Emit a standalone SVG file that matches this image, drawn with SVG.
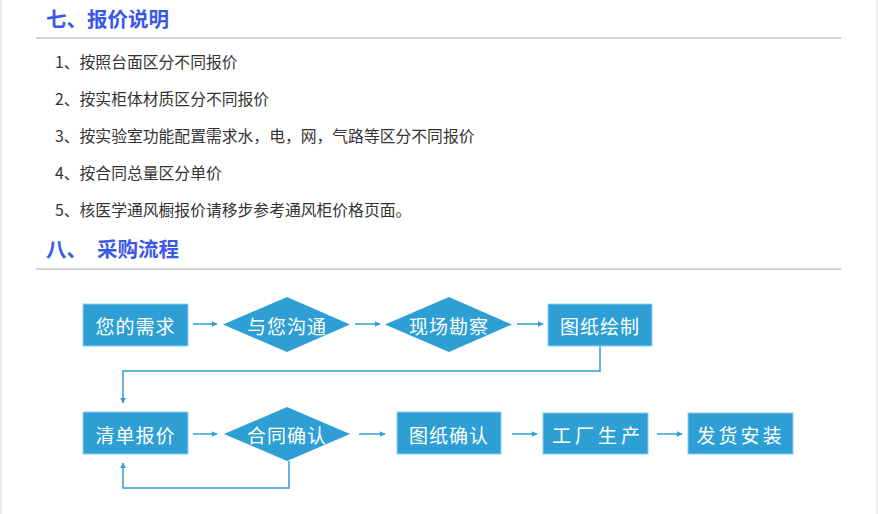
<svg xmlns="http://www.w3.org/2000/svg" width="878" height="514" viewBox="0 0 878 514">
<defs>
<style>
.h{font-family:"Noto Sans CJK SC","Noto Sans",sans-serif;font-size:20.5px;font-weight:bold;fill:#3a58e8}
.li{font-family:"Noto Sans CJK SC","Noto Sans",sans-serif;font-size:15.8px;fill:#333}
.box{fill:#2e9fd4;stroke:#8fd0ee;stroke-width:1}
.dia{fill:#2e9fd4}
.t{font-family:"Noto Sans CJK SC","Noto Sans",sans-serif;font-size:19px;fill:#fff;text-anchor:middle;dominant-baseline:central;letter-spacing:1px}
.c{fill:none;stroke:#2e9fd4;stroke-width:1.5}
</style>
<marker id="ah" viewBox="0 0 10 10" refX="9" refY="5" markerWidth="6" markerHeight="6" markerUnits="userSpaceOnUse" orient="auto">
<path d="M0,0 L10,5 L0,10 z" fill="#2e9fd4"/>
</marker>
</defs>
<rect x="0" y="0" width="878" height="514" fill="#fff"/>
<rect x="0" y="0" width="2" height="514" fill="#ececec"/>
<rect x="876" y="0" width="2" height="514" fill="#ececec"/>
<g id="section7">
<text class="h" x="46" y="27">七、报价说明</text>
<rect x="36" y="37" width="805" height="2" fill="#d4d4d4"/>
<text class="li" x="55" y="68">1、按照台面区分不同报价</text>
<text class="li" x="55" y="105">2、按实柜体材质区分不同报价</text>
<text class="li" x="55" y="142">3、按实验室功能配置需求水，电，网，气路等区分不同报价</text>
<text class="li" x="55" y="179">4、按合同总量区分单价</text>
<text class="li" x="55" y="216">5、核医学通风橱报价请移步参考通风柜价格页面。</text>
</g>
<g id="section8">
<text class="h" x="46" y="257">八、</text>
<text class="h" x="97" y="257">采购流程</text>
<rect x="36" y="268" width="805" height="2" fill="#d4d4d4"/>
</g>
<g id="connectors">
<line class="c" x1="193" y1="324" x2="217" y2="324" marker-end="url(#ah)"/>
<line class="c" x1="355" y1="324" x2="380" y2="324" marker-end="url(#ah)"/>
<line class="c" x1="517" y1="324" x2="543" y2="324" marker-end="url(#ah)"/>
<polyline class="c" points="600,346 600,371 123,371 123,403" marker-end="url(#ah)"/>
<line class="c" x1="193" y1="434" x2="217" y2="434" marker-end="url(#ah)"/>
<line class="c" x1="359" y1="434" x2="385" y2="434" marker-end="url(#ah)"/>
<polyline class="c" points="289,461 289,488 123,488 123,463" marker-end="url(#ah)"/>
<line class="c" x1="512" y1="434" x2="537" y2="434" marker-end="url(#ah)"/>
<line class="c" x1="657" y1="434" x2="682" y2="434" marker-end="url(#ah)"/>
</g>
<g id="n1"><rect class="box" x="83" y="304" width="105" height="42"/><text class="t" x="135.5" y="325">您的需求</text></g>
<g id="n2"><polygon class="dia" points="223,324.5 287,297 350,324.5 287,352"/><text class="t" x="287" y="325">与您沟通</text></g>
<g id="n3"><polygon class="dia" points="385,324.5 449,297 512,324.5 449,352"/><text class="t" x="449" y="325">现场勘察</text></g>
<g id="n4"><rect class="box" x="548" y="304" width="104" height="42"/><text class="t" x="600" y="325">图纸绘制</text></g>
<g id="n5"><rect class="box" x="83" y="412" width="105" height="42"/><text class="t" x="135.5" y="434">清单报价</text></g>
<g id="n6"><polygon class="dia" points="224,434 287,407 350,434 287,461"/><text class="t" x="287" y="434">合同确认</text></g>
<g id="n7"><rect class="box" x="397" y="412" width="104" height="42"/><text class="t" x="449" y="434">图纸确认</text></g>
<g id="n8"><rect class="box" x="543" y="413" width="105" height="41"/><text class="t" x="598" y="434" style="letter-spacing:4px">工厂生产</text></g>
<g id="n9"><rect class="box" x="688" y="413" width="105" height="41"/><text class="t" x="740.5" y="434" style="letter-spacing:3px">发货安装</text></g>
</svg>
